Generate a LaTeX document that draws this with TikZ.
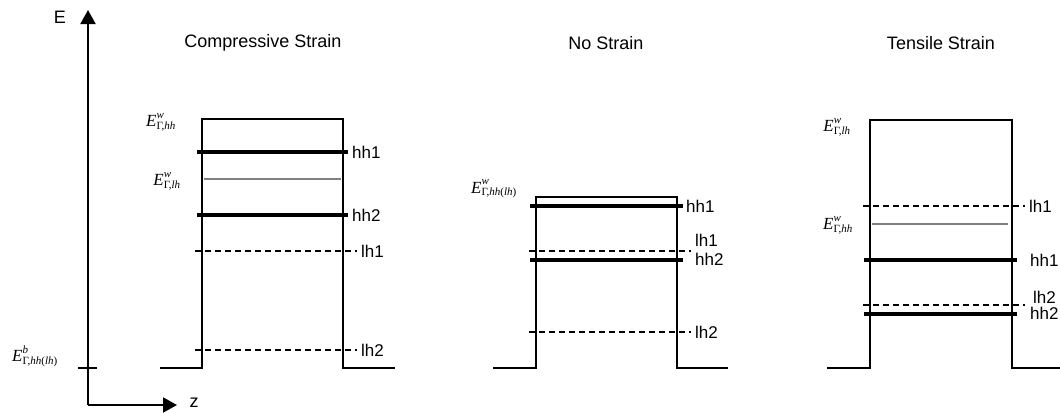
\documentclass[tikz,border=0pt]{standalone}
\usepackage{fontspec}
\setmainfont{Liberation Sans}
\newfontfamily\tms{Liberation Serif}
\usetikzlibrary{arrows.meta}
\newcommand\ELab[2]{$\hbox{\tms\itshape\fontsize{17}{17}\selectfont E}^{\hbox{\tms\itshape\fontsize{11}{11}\selectfont #1}}_{\hbox{\tms\fontsize{11}{11}\selectfont #2}}$}
\tikzset{
  wellline/.style={line width=2pt, line join=miter},
  hhlev/.style={line width=4pt},
  lhlev/.style={line width=1.5pt, dash pattern=on 6pt off 4pt},
  refline/.style={line width=1.5pt, black!50},
  axis/.style={line width=2pt, -{Triangle[length=14pt,width=15pt]}},
  lab/.style={anchor=west, inner sep=0pt, font=\fontsize{17}{19}\selectfont},
  ttl/.style={inner sep=0pt, font=\fontsize{18}{20}\selectfont},
  elab/.style={inner sep=0pt}
}
\begin{document}
\begin{tikzpicture}[x=1pt,y=-1pt]
\useasboundingbox (0,0) rectangle (1060,413);
% axes
\coordinate (O) at (88,405);
\coordinate (Etip) at (88,10);
\coordinate (Ztip) at (177,405);
\draw[axis] (O) -- (Etip);
\draw[axis] (O) -- (Ztip);
\node[ttl] (Elab) at (60,17) {E};
\node[ttl] (zlab) at (194,403) {z};
\coordinate (tl) at (78,368);
\coordinate (tr) at (97,368);
\draw[line width=2pt] (tl) -- (tr);
\node[elab] (Eb) at (35,356) {\ELab{b}{Γ,\textit{hh}(\textit{lh})}};

% Compressive
\node[ttl] (t1) at (263,43) {Compressive Strain};
\draw[wellline] (160,368) -- (202,368) -- (202,119) -- (343,119) -- (343,368) -- (395,368);
\node[elab] (c1) at (161,122) {\ELab{w}{Γ,\textit{hh}}};
\node[elab] (c2) at (167,181) {\ELab{w}{Γ,\textit{lh}}};
\draw[hhlev] (197,152) -- (348,152) coordinate (chh1);
\node[lab] (chh1l) at (352,152) {hh1};
\draw[refline] (204,179) -- (341,179);
\draw[hhlev] (197,215) -- (348,215) coordinate (chh2);
\node[lab] (chh2l) at (352,215) {hh2};
\draw[lhlev] (195,251) -- (357,251) coordinate (clh1);
\node[lab] (clh1l) at (361,251) {lh1};
\draw[lhlev] (195,350) -- (357,350) coordinate (clh2);
\node[lab] (clh2l) at (361,350) {lh2};

% No strain
\node[ttl] (t2) at (606,43) {No Strain};
\draw[wellline] (493,368) -- (536,368) -- (536,197) -- (677,197) -- (677,368) -- (728,368);
\node[elab] (n1) at (494,189) {\ELab{w}{Γ,\textit{hh}(\textit{lh})}};
\draw[hhlev] (530,206) -- (683,206) coordinate (nhh1);
\node[lab] (nhh1l) at (686,206) {hh1};
\draw[lhlev] (529,251) -- (691,251) coordinate (nlh1);
\node[lab] (nlh1l) at (695,240) {lh1};
\draw[hhlev] (530,260) -- (683,260) coordinate (nhh2);
\node[lab] (nhh2l) at (695,259) {hh2};
\draw[lhlev] (529,332) -- (691,332) coordinate (nlh2);
\node[lab] (nlh2l) at (695,332) {lh2};

% Tensile
\node[ttl] (t3) at (941,43) {Tensile Strain};
\draw[wellline] (827,368) -- (870,368) -- (870,120) -- (1012,120) -- (1012,368) -- (1060,368);
\node[elab] (s1) at (837,127) {\ELab{w}{Γ,\textit{lh}}};
\node[elab] (s2) at (838,225) {\ELab{w}{Γ,\textit{hh}}};
\draw[lhlev] (863,206) -- (1025,206) coordinate (slh1);
\node[lab] (slh1l) at (1029,206) {lh1};
\draw[refline] (872,224) -- (1008,224);
\draw[hhlev] (864,260) -- (1017,260) coordinate (shh1);
\node[lab] (shh1l) at (1030,260) {hh1};
\draw[lhlev] (863,305) -- (1025,305) coordinate (slh2);
\node[lab] (slh2l) at (1033,297) {lh2};
\draw[hhlev] (864,314) -- (1017,314) coordinate (shh2);
\node[lab] (shh2l) at (1030,313) {hh2};
\end{tikzpicture}
\end{document}
